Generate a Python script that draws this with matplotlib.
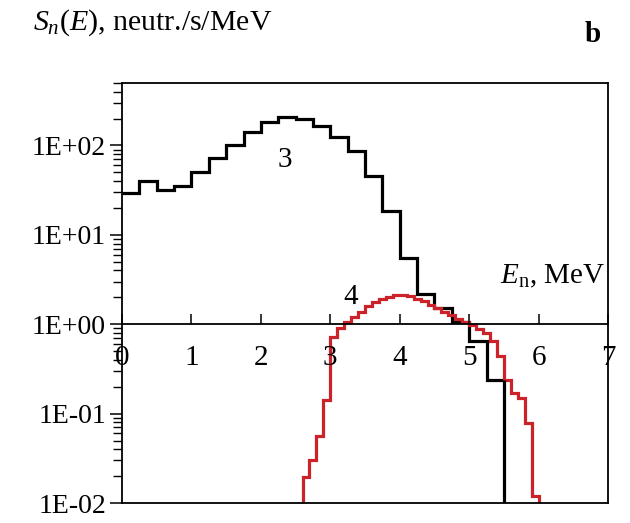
import numpy as np
import matplotlib
matplotlib.use("Agg")
import matplotlib.pyplot as plt
from matplotlib.ticker import FixedLocator, LogLocator, NullFormatter

plt.rcParams['font.family'] = ['Liberation Serif', 'DejaVu Serif']
plt.rcParams['mathtext.fontset'] = 'custom'
plt.rcParams['mathtext.rm'] = 'Liberation Serif'
plt.rcParams['mathtext.it'] = 'Liberation Serif:italic'

# spectrum 3, 0.25 MeV bins from 0 to 5.5 MeV
edges_3 = np.arange(0, 5.5 + 0.001, 0.25)
counts_3 = [29.4, 40.4, 32.0, 35.6, 50.6, 72.6, 102, 142, 182, 207, 199,
            167, 125, 86, 46, 18.3, 5.5, 2.17, 1.51, 1.07, 0.65, 0.24]

# spectrum 4, 0.1 MeV bins from 2.6 to 6.0 MeV
edges_4 = np.round(np.arange(2.6, 6.0 + 0.001, 0.1), 2)
counts_4 = [0.0193, 0.030, 0.056, 0.143, 0.711, 0.918, 1.06, 1.21, 1.37, 1.58,
            1.77, 1.93, 2.03, 2.10, 2.12, 2.05, 1.94, 1.80, 1.65, 1.51,
            1.38, 1.26, 1.15, 1.05, 0.975, 0.896, 0.789, 0.653, 0.441, 0.239,
            0.170, 0.149, 0.0788, 0.0119]

y_ticks = [1e-2, 1e-1, 1, 1e1, 1e2]
y_labels = ['1E-02', '1E-01', '1E+00', '1E+01', '1E+02']
x_ticks = [0, 1, 2, 3, 4, 5, 6, 7]

fig = plt.figure(figsize=(6.3, 5.23), dpi=100)
ax = fig.add_axes([0.1937, 0.0382, 0.7714, 0.8031])

ax.set_yscale('log')
ax.set_xlim(0, 7)
ax.set_ylim(0.01, 500)

# curve 3 starts on the axis at 0 and drops out of range after the last bin
ax.stairs(counts_3, edges_3, baseline=None, color='black', lw=2.3)
ax.vlines(edges_3[-1], 1e-4, counts_3[-1], color='black', lw=2.3)
ax.stairs(counts_4, edges_4, baseline=1e-4, color='#cc2229', lw=2.3)

# x axis crosses at 1, frame closed at the bottom
ax.spines['bottom'].set_position(('data', 1))
ax.plot([0, 1], [0, 0], transform=ax.transAxes, color='black', lw=1.3, clip_on=False)
for s in ax.spines.values():
    s.set_linewidth(1.3)

ax.xaxis.set_major_locator(FixedLocator(x_ticks))
ax.tick_params(axis='x', direction='in', length=7, width=1.1, pad=15, labelsize=21)
ax.yaxis.set_major_locator(FixedLocator(y_ticks))
ax.set_yticklabels(y_labels)
ax.yaxis.set_minor_locator(LogLocator(base=10, subs=np.arange(2, 10), numticks=20))
ax.yaxis.set_minor_formatter(NullFormatter())
ax.tick_params(axis='y', which='major', direction='out', length=9, width=1.1, pad=2.5, labelsize=20)
ax.tick_params(axis='y', which='minor', direction='out', length=6.5, width=1.0)

ax.text(2.34, 58, '3', fontsize=21, ha='center', va='baseline')
ax.text(3.30, 1.69, '4', fontsize=21, ha='center', va='baseline')
ax.text(6.96, 2.9, r'$E_{\mathrm{n}}$, MeV', fontsize=21, ha='right', va='baseline')

fig.text(33 / 630, 1 - 30 / 523, r'$S_n(E)$, neutr./s/MeV', fontsize=21.5, ha='left', va='baseline')
fig.text(593 / 630, 1 - 35 / 523, 'b', fontsize=21, fontweight='bold', ha='center', va='center')

fig.savefig('out.png', dpi=100)
